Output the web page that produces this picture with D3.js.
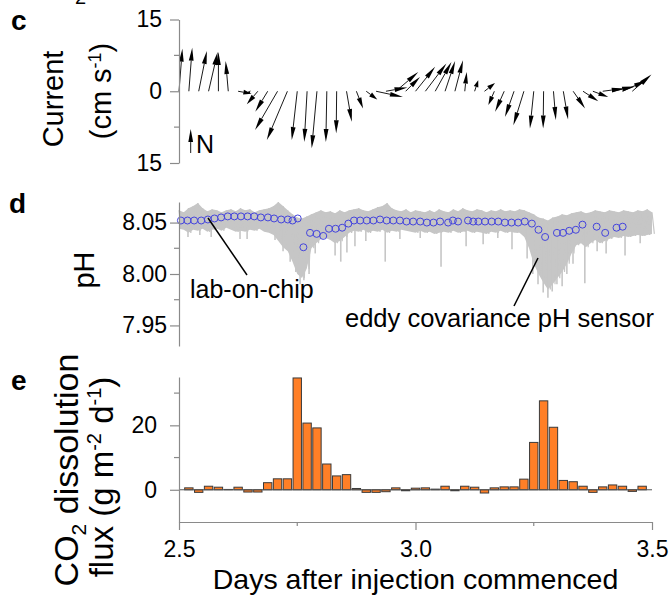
<!DOCTYPE html>
<html>
<head>
<meta charset="utf-8">
<script src="https://cdn.jsdelivr.net/npm/d3@7"></script>
<style>
  body { margin: 0; background: #fff; }
  svg { display: block; font-family: "Liberation Sans", Arial, sans-serif; }
</style>
</head>
<body>
<svg id="chart" width="672" height="602"></svg>
<script>
// panel c: current vectors every 30 min from day 2.5 (u east, v north, cm s-1)
const currentStart = 2.5;
const currentStep = 1 / 48;
const currentU = [0.7, 0.7, 1.7, 1.9, 0.0, -0.55, 2.8, 0.4, -2.3, -2.6, -4.7, -4.3, -1.15, -0.6, -1.1, -0.2,
  -0.1, 1.1, 1.4, 2.3, 5.6, 4.5, 4.7, 3.0, 4.1, 4.4, 3.4, 2.1, 1.7, 0.4, 0.75, 2.2,
  -1.25, -1.9, -1.9, -2.2, -0.8, -0.1, 0.5, 1.0, 2.5, 3.2, 3.2, 4.6, 4.7, 5.1, 4.0];
const currentV = [8.9, 9.1, 8.4, 8.2, 8.2, 6.3, -0.5, -0.4, -2.7, -4.3, -8.1, -10.2, -10.2, -10.6, -11.9, -10.6,
  -8.8, -6.4, -3.6, -1.7, -1.2, 0.8, 4.0, 3.0, 5.1, 5.8, 6.1, 6.3, 6.5, 4.0, 2.3, 1.7,
  -2.9, -4.3, -5.4, -7.1, -7.8, -7.8, -6.0, -5.9, -3.6, -2.1, -1.2, 0.6, 1.0, 2.3, 3.5];
const northRef = 5;
const currentTicks = [-15, 0, 15];
const currentMinor = [-7.5, 7.5];

// panel d: lab-on-chip pH
const chipDays = [2.504, 2.518, 2.532, 2.547, 2.561, 2.575, 2.589, 2.603, 2.617, 2.631, 2.645, 2.659, 2.673,
  2.688, 2.701, 2.716, 2.730, 2.740, 2.751, 2.763, 2.777, 2.791, 2.805, 2.817, 2.831, 2.845, 2.858, 2.870,
  2.883, 2.897, 2.911, 2.925, 2.939, 2.953, 2.967, 2.981, 2.995, 3.010, 3.024, 3.038, 3.052, 3.069, 3.079,
  3.090, 3.111, 3.122, 3.133, 3.147, 3.161, 3.175, 3.189, 3.203, 3.217, 3.231, 3.246, 3.260, 3.274, 3.299,
  3.312, 3.325, 3.339, 3.353, 3.383, 3.401, 3.425, 3.438];
const chipPH = [8.052, 8.052, 8.052, 8.052, 8.053, 8.054, 8.055, 8.056, 8.056, 8.056, 8.056, 8.056, 8.055,
  8.055, 8.054, 8.053, 8.053, 8.052, 8.054, 8.026, 8.040, 8.039, 8.037, 8.044, 8.044, 8.045, 8.049, 8.052,
  8.052, 8.052, 8.052, 8.053, 8.052, 8.052, 8.052, 8.051, 8.051, 8.051, 8.050, 8.050, 8.051, 8.050, 8.052,
  8.051, 8.052, 8.051, 8.051, 8.051, 8.051, 8.051, 8.050, 8.050, 8.050, 8.051, 8.049, 8.043, 8.036, 8.040,
  8.040, 8.042, 8.043, 8.048, 8.046, 8.040, 8.045, 8.046];

// panel d: eddy covariance pH sensor, upper/lower edge of the trace every 0.01 d
const ecStart = 2.5;
const ecStep = 0.01;
const ecHi = [8.062, 8.060, 8.064, 8.066, 8.069, 8.064, 8.061, 8.063, 8.062, 8.060, 8.062, 8.063, 8.061, 8.064,
  8.062, 8.063, 8.060, 8.062, 8.063, 8.064, 8.066, 8.070, 8.066, 8.062, 8.058, 8.055, 8.054, 8.056, 8.058,
  8.060, 8.062, 8.060, 8.061, 8.059, 8.062, 8.060, 8.062, 8.063, 8.064, 8.062, 8.061, 8.063, 8.065, 8.066,
  8.069, 8.064, 8.062, 8.061, 8.063, 8.060, 8.062, 8.061, 8.060, 8.062, 8.060, 8.063, 8.061, 8.060, 8.063,
  8.061, 8.064, 8.062, 8.061, 8.063, 8.062, 8.060, 8.062, 8.061, 8.063, 8.061, 8.062, 8.061, 8.063, 8.062,
  8.060, 8.058, 8.055, 8.054, 8.052, 8.055, 8.056, 8.058, 8.057, 8.059, 8.060, 8.061, 8.059, 8.060, 8.062,
  8.061, 8.060, 8.062, 8.061, 8.060, 8.062, 8.061, 8.060, 8.062, 8.061, 8.063, 8.060];
const ecLo = [8.044, 8.043, 8.040, 8.043, 8.042, 8.044, 8.041, 8.043, 8.044, 8.042, 8.045, 8.043, 8.041, 8.042,
  8.041, 8.043, 8.042, 8.044, 8.041, 8.040, 8.038, 8.032, 8.026, 8.022, 8.012, 8.000, 7.996, 8.005, 8.025,
  8.030, 8.034, 8.035, 8.033, 8.030, 8.032, 8.036, 8.040, 8.042, 8.041, 8.043, 8.040, 8.042, 8.041, 8.043,
  8.040, 8.042, 8.041, 8.043, 8.042, 8.041, 8.040, 8.042, 8.040, 8.041, 8.039, 8.040, 8.041, 8.040, 8.042,
  8.040, 8.041, 8.042, 8.040, 8.041, 8.040, 8.039, 8.041, 8.040, 8.042, 8.040, 8.041, 8.040, 8.040, 8.036,
  8.025, 8.010, 8.000, 7.992, 7.985, 7.990, 7.996, 8.002, 8.010, 8.020, 8.028, 8.030, 8.026, 8.030, 8.033,
  8.030, 8.032, 8.034, 8.036, 8.035, 8.037, 8.036, 8.037, 8.038, 8.037, 8.038, 8.039];
const ecSpikeDays = [2.519, 2.544, 2.568, 2.629, 2.644, 2.703, 2.720, 2.735, 2.747, 2.756, 2.764, 2.775, 2.788,
  2.830, 2.842, 2.855, 2.872, 2.895, 2.936, 2.967, 3.010, 3.054, 3.107, 3.143, 3.174, 3.204, 3.236, 3.248,
  3.259, 3.270, 3.280, 3.289, 3.299, 3.310, 3.320, 3.333, 3.358, 3.384, 3.403, 3.443, 3.475];
const ecSpikePH = [8.036, 8.038, 8.036, 8.034, 8.034, 8.033, 8.022, 8.012, 8.002, 7.990, 7.994, 8.000, 8.020,
  8.018, 8.012, 8.021, 8.027, 8.032, 8.012, 8.034, 8.035, 8.007, 8.027, 8.029, 8.035, 8.024, 8.015, 8.000,
  7.990, 7.982, 7.977, 7.983, 7.990, 7.988, 8.000, 8.010, 7.991, 8.022, 8.020, 8.018, 8.030];
const phTicks = [7.95, 8.00, 8.05];
const phMinor = [7.975, 8.025];

// panel e: CO2 dissolution flux, 30 min bins centred from day 2.5 + 1/48
const fluxStart = 2.5 + 1 / 48;
const fluxStep = 1 / 48;
const fluxValues = [0.6, -0.8, 1.1, 0.8, 0.1, 0.8, -0.7, -0.7, 2.2, 3.4, 3.4, 34.7, 20.7, 19.2, 8.0, 4.3,
  4.7, 0.4, -0.8, -0.8, -0.6, 0.6, -0.3, 0.5, 0.6, 0.2, 1.1, -0.3, 1.1, 0.8, -1.0, 0.6,
  0.9, 0.9, 3.3, 14.7, 27.6, 19.4, 2.9, 2.5, 1.1, -0.8, 0.9, 1.5, 1.1, -0.5, 1.1];
const fluxTicks = [0, 20];
const fluxMinor = [10, 30];
const dayTicks = [2.5, 3.0, 3.5];
const dayMinor = [2.75, 3.25];

const svg = d3.select("#chart");
const axisColor = "#8a8a8a";
const axisX = 179;

const x = d3.scaleLinear().domain([2.5, 3.5]).range([179, 652]);
const yCur = d3.scaleLinear().domain([-15, 15]).range([163, 19.5]);
const yPH = d3.scaleLinear().domain([7.93, 8.07]).range([346, 202]);
const yFlux = d3.scaleLinear().domain([-10, 35]).range([522, 377]);

function styleAxis(g) {
  g.select(".domain").attr("stroke", axisColor).attr("stroke-width", 1.2);
  g.selectAll(".tick line").attr("stroke", axisColor).attr("stroke-width", 1.2);
  g.selectAll(".tick text").attr("fill", "#000").style("font-size", "23px")
    .style("font-family", '"Liberation Sans", Arial, sans-serif');
}

function leftAxis(scale, major, minor, fmt, pad) {
  const g = svg.append("g").attr("transform", `translate(${axisX},0)`);
  g.call(d3.axisLeft(scale).tickValues(major).tickSize(9).tickSizeOuter(0)
    .tickPadding(pad).tickFormat(fmt));
  g.selectAll(".minor").data(minor).join("line")
    .attr("x1", -5).attr("x2", 0)
    .attr("y1", d => scale(d)).attr("y2", d => scale(d))
    .attr("stroke", axisColor).attr("stroke-width", 1.2);
  styleAxis(g);
  return g;
}

function arrow(g, bx, by, dx, dy) {
  const len = Math.hypot(dx, dy);
  if (len < 0.5) return;
  const ux = dx / len, uy = dy / len;
  const hl = Math.min(13, len * 0.6), hw = 2.4;
  const tx = bx + dx, ty = by + dy;
  const hx = tx - ux * hl, hy = ty - uy * hl;
  g.append("line")
    .attr("x1", bx).attr("y1", by).attr("x2", hx).attr("y2", hy)
    .attr("stroke", "#000").attr("stroke-width", 0.9);
  g.append("path")
    .attr("d", `M${tx},${ty}L${hx - uy * hw},${hy + ux * hw}L${hx + uy * hw},${hy - ux * hw}Z`)
    .attr("fill", "#000");
}

function panelLetter(txt, px, py) {
  svg.append("text").attr("x", px).attr("y", py).text(txt)
    .style("font-size", "28px").style("font-weight", "bold");
}

// ---- panel c ----
const pxPerCm = yCur(0) - yCur(1);
const gCur = svg.append("g");
currentU.forEach((u, i) => {
  const t = currentStart + i * currentStep;
  arrow(gCur, x(t), yCur(0), u * pxPerCm, -currentV[i] * pxPerCm);
});
arrow(gCur, 190.7, 153, 0, -northRef * pxPerCm);
svg.append("text").attr("x", 196).attr("y", 153).text("N").style("font-size", "25px");

leftAxis(yCur, currentTicks, currentMinor, d => Math.abs(d), 8);

svg.append("text").attr("transform", "translate(63,99) rotate(-90)")
  .attr("text-anchor", "middle").style("font-size", "29px").text("Current");
const cmLabel = svg.append("text").attr("transform", "translate(111,91) rotate(-90)")
  .attr("text-anchor", "middle").style("font-size", "29px");
cmLabel.append("tspan").text("(cm s");
cmLabel.append("tspan").attr("dy", -10).style("font-size", "18px").text("-1");
cmLabel.append("tspan").attr("dy", 10).text(")");

panelLetter("c", 11, 30);
svg.append("text").attr("x", 75).attr("y", 4).style("font-size", "20px").text("2");

// ---- panel d ----
const ecDays = ecHi.map((_, i) => ecStart + i * ecStep);
const gray = "#c6c6c6";
svg.append("path")
  .datum(ecDays.map((t, i) => [t, ecHi[i], ecLo[i]]))
  .attr("fill", gray)
  .attr("d", d3.area().x(d => x(d[0])).y0(d => yPH(d[2])).y1(d => yPH(d[1])));
svg.append("path")
  .datum(ecDays.flatMap((t, i) => [[t, ecHi[i]], [t + ecStep / 2, ecLo[i]]]))
  .attr("fill", "none").attr("stroke", gray).attr("stroke-width", 1.2)
  .attr("d", d3.line().x(d => x(d[0])).y(d => yPH(d[1])));
svg.append("g").selectAll("line").data(ecSpikeDays).join("line")
  .attr("x1", d => x(d)).attr("x2", d => x(d))
  .attr("y1", yPH(8.045)).attr("y2", (d, i) => yPH(ecSpikePH[i]))
  .attr("stroke", gray).attr("stroke-width", 1.6);

svg.append("g").selectAll("circle").data(chipDays).join("circle")
  .attr("cx", d => x(d)).attr("cy", (d, i) => yPH(chipPH[i])).attr("r", 3.5)
  .attr("fill", "none").attr("stroke", "#4444dd").attr("stroke-width", 1);

leftAxis(yPH, phTicks, phMinor, d3.format(".2f"), 3);

svg.append("line").attr("x1", 208).attr("y1", 218).attr("x2", 247).attr("y2", 275)
  .attr("stroke", "#000").attr("stroke-width", 1.5);
svg.append("text").attr("x", 190).attr("y", 298).style("font-size", "25px").text("lab-on-chip");
svg.append("line").attr("x1", 538).attr("y1", 258).attr("x2", 514).attr("y2", 306)
  .attr("stroke", "#000").attr("stroke-width", 1.5);
svg.append("text").attr("x", 345).attr("y", 327).style("font-size", "25.5px")
  .text("eddy covariance pH sensor");

svg.append("text").attr("transform", "translate(94,270) rotate(-90)")
  .attr("text-anchor", "middle").style("font-size", "29px").text("pH");
panelLetter("d", 9, 213);

// ---- panel e ----
const barW = (x(fluxStep) - x(0)) * 0.85;
svg.append("g").selectAll("rect").data(fluxValues).join("rect")
  .attr("x", (d, i) => x(fluxStart + i * fluxStep) - barW / 2)
  .attr("width", barW)
  .attr("y", d => yFlux(Math.max(0, d)))
  .attr("height", d => Math.abs(yFlux(d) - yFlux(0)))
  .attr("fill", "#ff7f27").attr("stroke", "#3a3a3a").attr("stroke-width", 1);
svg.append("line").attr("x1", x(2.5)).attr("x2", x(3.5))
  .attr("y1", yFlux(0)).attr("y2", yFlux(0))
  .attr("stroke", "#555").attr("stroke-width", 1);

leftAxis(yFlux, fluxTicks, fluxMinor, d => d, 13);

const gx = svg.append("g").attr("transform", `translate(0,${yFlux(-10)})`);
gx.call(d3.axisBottom(x).tickValues(dayTicks).tickSize(8).tickSizeOuter(0)
  .tickPadding(11).tickFormat(d3.format(".1f")));
gx.selectAll(".minor").data(dayMinor).join("line")
  .attr("x1", d => x(d)).attr("x2", d => x(d)).attr("y1", 0).attr("y2", 4)
  .attr("stroke", axisColor).attr("stroke-width", 1.2);
styleAxis(gx);

svg.append("text").attr("x", x(3.0)).attr("y", 589).attr("text-anchor", "middle")
  .style("font-size", "28.5px").text("Days after injection commenced");

const co2 = svg.append("text").attr("transform", "translate(78,470) rotate(-90)")
  .attr("text-anchor", "middle").style("font-size", "34px");
co2.append("tspan").text("CO");
co2.append("tspan").attr("dy", 8).style("font-size", "21px").text("2");
co2.append("tspan").attr("dy", -8).text(" dissolution");
const fluxLabel = svg.append("text").attr("transform", "translate(113,477) rotate(-90)")
  .attr("text-anchor", "middle").style("font-size", "33px");
fluxLabel.append("tspan").text("flux (g m");
fluxLabel.append("tspan").attr("dy", -12).style("font-size", "20px").text("-2");
fluxLabel.append("tspan").attr("dy", 12).text(" d");
fluxLabel.append("tspan").attr("dy", -12).style("font-size", "20px").text("-1");
fluxLabel.append("tspan").attr("dy", 12).text(")");
panelLetter("e", 11, 390);
</script>
</body>
</html>
